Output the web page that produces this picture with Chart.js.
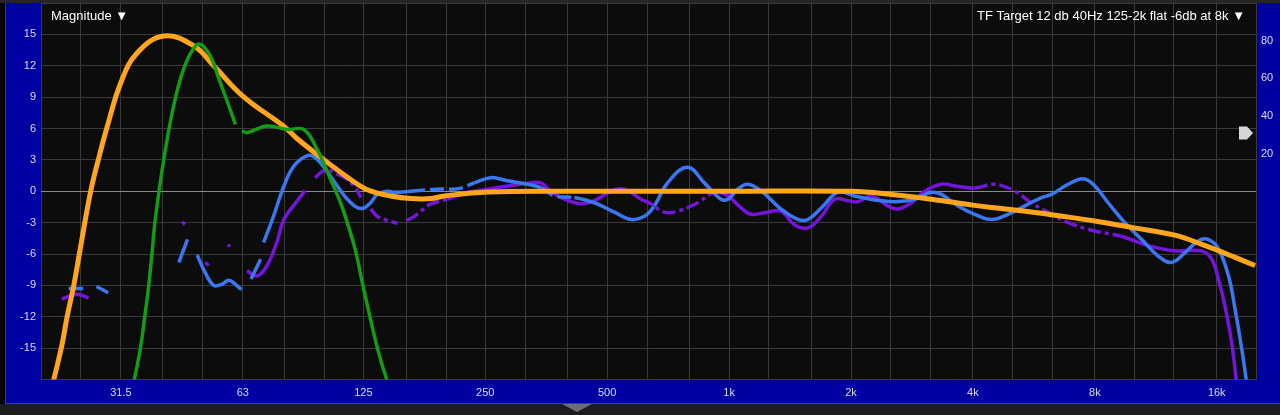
<!DOCTYPE html>
<html>
<head>
<meta charset="utf-8">
<script src="https://cdn.jsdelivr.net/npm/chart.js@4.4.1/dist/chart.umd.min.js"></script>
<style>
  html, body { margin: 0; padding: 0; background: #000; }
  #wrap { width: 1280px; height: 415px; }
</style>
</head>
<body>
<div id="wrap"><canvas id="tf" width="1280" height="415"></canvas></div>
<script>
// 1/3 octave grid and labelled frequencies
const gridFreqs = [20, 25, 31.5, 40, 50, 63, 80, 100, 125, 160, 200, 250, 315, 400, 500, 630, 800,
  1000, 1250, 1600, 2000, 2500, 3150, 4000, 5000, 6300, 8000, 10000, 12500, 16000, 20000];
const labelFreqs = [31.5, 63, 125, 250, 500, 1000, 2000, 4000, 8000, 16000];
const labelNames = ['31.5', '63', '125', '250', '500', '1k', '2k', '4k', '8k', '16k'];
const rightTicks = [20, 40, 60, 80];

// target curve (orange)
const targetFreq = [21.2, 22.5, 23.2, 24.1, 25.0, 26.5, 27.7, 29.1, 31.5, 34.5, 40.2, 47.7, 53.4, 63, 79.6, 86,
  100, 110, 121, 130, 146, 164, 184, 198, 254, 400, 1000, 2000, 2520, 3160, 4040, 4700, 5900, 6400,
  8000, 10000, 12600, 14700, 16200, 17700, 19900];
const targetDb = [-19, -14.8, -12, -9, -5.5, -0.1, 3.0, 6.1, 10.4, 13.2, 14.85, 13.9, 12.0, 9.1, 6.2, 5.0,
  3.0, 1.8, 0.67, 0.03, -0.45, -0.7, -0.7, -0.45, -0.07, 0, 0, 0, -0.3, -0.76, -1.35, -1.65, -2.1, -2.3,
  -2.84, -3.5, -4.2, -5.07, -5.7, -6.3, -7.1];

// sub trace (green)
const subFreq = [33.8, 35.2, 36.1, 36.9, 37.6, 38.3, 40.2, 42.5, 45.0, 47.7, 49.5, 52.4, 55.4, 58.2, 60.4, 61.5,
  62.7, 64.5, 72.3, 81.1, 89.1, 96.1, 103.7, 109.8, 114.1, 119.6, 124.2, 129.1, 134.4, 139.3, 142.3, 143.5];
const subDb = [-18.5, -15, -11.9, -9, -5.9, -2.7, 3.06, 8.15, 11.7, 13.7, 14.05, 12.9, 10.4, 8.15, 6.4, null,
  5.77, 5.6, 6.24, 5.9, 5.9, 4.0, 1.15, -1.1, -3.0, -5.7, -8.7, -11.6, -14.5, -16.7, -17.8, -18.5];

// measurement A (blue)
const measAFreq = [23.4, 25.4, 26.4, 27.4, 29.3, 36, 43.8, 46.0, 47, 48.6, 50.9, 53.4, 55.9, 58.2, 60.4, 62.5, 64,
  66.0, 69.7, 70.3, 70.9, 75.0, 79.6, 84.2, 90.9, 95.2, 100.8, 107.8, 114.1, 120.7, 125.4, 130.3, 135.4, 143.3,
  149, 164, 190, 215, 235, 258, 284, 318, 343, 371, 415, 465, 521, 573, 618, 654, 705, 790, 869, 955, 993,
  1051, 1112, 1200, 1344, 1479, 1565, 1689, 1857, 2040, 2289, 2564, 2873, 3158, 3343, 3676, 4041, 4443,
  4887, 5371, 5908, 6250, 6873, 7494, 8000, 8630, 9490, 10430, 11470, 12370, 13340, 14390, 15230, 16150,
  17110, 17760, 18450, 19000];
const measADb = [-9.3, -9.3, null, -9.1, -9.7, null, -6.8, -4.6, null, -6.1, -7.8, -9.0, -8.9, -8.5, -8.9, -9.4, null,
  -8.4, -6.5, null, -4.9, -2.4, 0.5, 2.4, 3.4, 3.2, 2.1, 0.5, -0.76, -1.56, -1.6, -1.1, -0.3, 0,
  -0.1, 0, 0.2, 0.25, 0.8, 1.3, 1.0, 0.67, 0.35, -0.45, -0.6, -1.1, -2.0, -2.7, -2.4, -1.4, 0.8, 2.3, 0.8, -0.76, -0.76,
  0.2, 0.67, 0.03, -1.7, -2.7, -2.7, -1.6, -0.1, -0.45, -0.83, -1.0, -0.76, -0.1, -0.3, -1.4, -2.2, -2.7,
  -2.2, -1.4, -0.6, -0.3, 0.67, 1.2, 0.5, -1.1, -3.0, -4.6, -6.2, -6.8, -5.9, -4.75, -4.6, -5.5,
  -8.1, -11.3, -15.1, -18.5];
const measADashed = [[165, 230], [345, 420], [600, 650]];

// measurement B (purple)
const measBFreq = [22.5, 24.5, 26.2, 30, 44.6, 45.3, 46, 50.9, 51.9, 55, 57.9, 58.5, 60,
  64.5, 68.3, 72.3, 76.4, 79.6, 85.9, 90.9, 93, 95.0, 99, 101.7, 105.7, 112.2, 118.5, 123.3, 127,
  130.3, 135.4, 140.8, 151.7, 156, 160.1, 167, 173.4, 180, 183.6, 201.6, 226, 254, 284, 323, 343, 363, 392,
  430, 465, 511, 551, 606, 641, 692, 747, 837, 920, 993, 1071, 1133, 1246, 1344, 1450, 1565, 1689, 1821,
  1966, 2080, 2244, 2467, 2612, 2815, 3042, 3343, 3676, 4041, 4525, 5077, 5573, 6250, 6873, 8000, 9310,
  10820, 12620, 14690, 15540, 16150, 16770, 17420, 17930];
const measBDb = [-10.3, -9.85, -10.2, null, -2.9, -3.2, null, -6.8, -7.1, null, -5.1, -5.3, null,
  -7.6, -8.1, -7.1, -4.9, -2.7, -0.9, 0.35, null, 1.3, 1.9, 2.1, 1.8, 1.3, 0.5, -0.6, null,
  -1.7, -2.4, -2.7, -3.06, null, -2.8, -2.4, -1.9, -1.4, -1.2, -0.76, -0.1, 0.2, 0.5, 0.8, 0.8, 0, -0.76,
  -1.2, -0.9, 0, 0.2, -0.76, -1.2, -2.0, -1.9, -1.1, -0.1, -0.45, -1.6, -2.2, -2.0, -1.9, -3.2, -3.5, -2.4, -0.76,
  -0.9, -1.0, -0.45, -1.4, -1.7, -1.1, 0, 0.67, 0.45, 0.3, 0.67, 0, -1.1, -2.2, -3.0, -3.8, -4.3,
  -5.2, -5.7, -5.7, -6.5, -8.4, -11.0, -14.5, -18.5];
const measBDashed = [[85, 210], [600, 900], [4200, 9000]];

const handleLevel = 31;

const toPoints = (fs, ds) => fs.map((f, i) => ({ x: f, y: ds[i] }));

function bandDash(bands, dash) {
  return ctx => {
    const mid = Math.sqrt(ctx.p0.parsed.x * ctx.p1.parsed.x);
    return bands.some(([lo, hi]) => mid >= lo && mid <= hi) ? dash : undefined;
  };
}

function noPad(scale) {
  scale.paddingTop = 0;
  scale.paddingBottom = 0;
  scale.paddingLeft = 0;
  scale.paddingRight = 0;
}

const FONT = "'Liberation Sans', Arial, Helvetica, sans-serif";
const tickColor = '#dcdcf0';
const gridColor = '#3a3a3a';

const framePlugin = {
  id: 'frame',
  beforeDraw(chart) {
    const { ctx, chartArea: a } = chart;
    ctx.save();
    ctx.fillStyle = '#000';
    ctx.fillRect(0, 0, chart.width, chart.height);
    ctx.fillStyle = '#262626';
    ctx.fillRect(0, 0, chart.width, 3);
    ctx.fillStyle = '#1c1c1c';
    ctx.fillRect(0, 404, chart.width, chart.height - 404);
    ctx.fillStyle = '#0000a2';
    ctx.fillRect(5, 3, chart.width - 5, 401);
    ctx.fillStyle = '#3434c8';
    ctx.fillRect(5, 3, 1, 401);
    ctx.fillRect(5, 403, chart.width - 5, 1);
    ctx.fillStyle = '#0c0c0c';
    ctx.fillRect(a.left, a.top, a.right - a.left, a.bottom - a.top);
    ctx.restore();
  },
  afterDraw(chart) {
    const { ctx, chartArea: a, scales } = chart;
    ctx.save();
    ctx.fillStyle = '#ffffff';
    ctx.font = '13px ' + FONT;
    ctx.textBaseline = 'middle';
    ctx.textAlign = 'left';
    ctx.fillText('Magnitude \u25BC', a.left + 10, 16);
    ctx.textAlign = 'right';
    ctx.fillText('TF Target 12 db 40Hz 125-2k flat -6db at 8k \u25BC', a.right - 11, 16);

    // level handle on the right edge
    const hy = scales.y2.getPixelForValue(handleLevel);
    ctx.fillStyle = '#d6d6d6';
    ctx.beginPath();
    ctx.moveTo(a.right - 17, hy - 6.5);
    ctx.lineTo(a.right - 9, hy - 6.5);
    ctx.lineTo(a.right - 3, hy);
    ctx.lineTo(a.right - 9, hy + 6.5);
    ctx.lineTo(a.right - 17, hy + 6.5);
    ctx.closePath();
    ctx.fill();

    // small tab below the axis
    const cx = 577;
    ctx.fillStyle = '#6e6e6e';
    ctx.beginPath();
    ctx.moveTo(cx - 15, 404);
    ctx.lineTo(cx + 15, 404);
    ctx.lineTo(cx, 412);
    ctx.closePath();
    ctx.fill();
    ctx.restore();
  }
};

new Chart(document.getElementById('tf'), {
  type: 'line',
  data: {
    datasets: [
      {
        label: 'Sub', data: toPoints(subFreq, subDb), borderColor: '#149c14', borderWidth: 3.5,
        order: 1, tension: 0.4, pointRadius: 0, spanGaps: false, yAxisID: 'y'
      },
      {
        label: 'Target', data: toPoints(targetFreq, targetDb), borderColor: '#ffa51e', borderWidth: 5,
        order: 2, tension: 0.4, pointRadius: 0, yAxisID: 'y'
      },
      {
        label: 'Meas A', data: toPoints(measAFreq, measADb), borderColor: '#3a78f2', borderWidth: 3.5,
        order: 3, tension: 0.4, pointRadius: 0, spanGaps: false, yAxisID: 'y',
        segment: { borderDash: bandDash(measADashed, [14, 5]) }
      },
      {
        label: 'Meas B', data: toPoints(measBFreq, measBDb), borderColor: '#7414dc', borderWidth: 3.5,
        order: 4, tension: 0.4, pointRadius: 0, spanGaps: false, yAxisID: 'y',
        segment: { borderDash: bandDash(measBDashed, [13, 4, 4, 4]) }
      }
    ]
  },
  options: {
    responsive: false,
    animation: false,
    devicePixelRatio: 1,
    layout: { padding: { top: 3, left: 0, right: 0, bottom: 0 } },
    plugins: { legend: { display: false }, tooltip: { enabled: false } },
    scales: {
      x: {
        type: 'logarithmic',
        min: 20,
        max: 20000,
        afterBuildTicks: scale => { scale.ticks = gridFreqs.map(v => ({ value: v })); },
        afterFit: scale => { scale.height = 35.5; noPad(scale); },
        ticks: {
          color: tickColor,
          font: { family: FONT, size: 11 },
          padding: 7,
          autoSkip: false,
          maxRotation: 0,
          callback: value => {
            const i = labelFreqs.indexOf(value);
            return i >= 0 ? labelNames[i] : '';
          }
        },
        grid: { color: gridColor, lineWidth: 1, drawTicks: false },
        border: { display: false }
      },
      y: {
        position: 'left',
        min: -18,
        max: 18,
        afterBuildTicks: scale => {
          const t = [];
          for (let v = -18; v <= 18; v += 3) t.push({ value: v });
          scale.ticks = t;
        },
        afterFit: scale => { scale.width = 41; noPad(scale); },
        ticks: {
          color: tickColor,
          font: { family: FONT, size: 11 },
          padding: 5,
          callback: v => (Math.abs(v) >= 18 ? '' : String(v))
        },
        grid: {
          color: c => (c.tick && c.tick.value === 0 ? '#8a8a8a' : gridColor),
          lineWidth: 1,
          drawTicks: false
        },
        border: { display: false }
      },
      y2: {
        position: 'right',
        min: -100,
        max: 100,
        afterBuildTicks: scale => { scale.ticks = rightTicks.map(v => ({ value: v })); },
        afterFit: scale => { scale.width = 24; noPad(scale); },
        ticks: {
          color: tickColor,
          font: { family: FONT, size: 11 },
          padding: 5
        },
        grid: { display: false, drawTicks: false },
        border: { display: false }
      }
    }
  },
  plugins: [framePlugin]
});
</script>
</body>
</html>
